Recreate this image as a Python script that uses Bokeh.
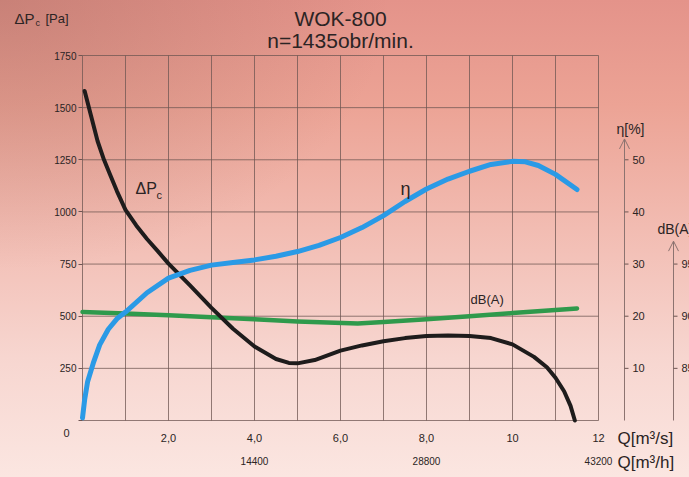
from bokeh.plotting import figure
from bokeh.models import (Range1d, LinearAxis, FixedTicker, Arrow, OpenHead,
                          InlineStyleSheet)
from bokeh.core.properties import value
from bokeh.embed import file_html
from bokeh.resources import INLINE

# ---------------- data ----------------
q_dp = [0.05, 0.2, 0.35, 0.5, 0.65, 0.8, 1.0, 1.25, 1.5, 1.75, 2.0, 2.5, 3.0, 3.5, 4.0,
        4.5, 4.8, 5.0, 5.4, 6.0, 6.5, 7.0, 7.5, 8.0, 8.5, 9.0, 9.5, 10.0, 10.5, 10.8,
        11.0, 11.2, 11.35, 11.45]
dp = [1580, 1460, 1340, 1250, 1175, 1100, 1010, 935, 870, 812, 752, 648, 540, 440, 355,
      295, 276, 274, 290, 335, 360, 380, 395, 405, 408, 405, 395, 365, 305, 255,
      205, 140, 70, 0]

q_eta = [0.0, 0.05, 0.12, 0.25, 0.4, 0.6, 0.8, 1.0, 1.5, 2.0, 2.5, 3.0, 3.5, 4.0, 4.5,
         5.0, 5.5, 6.0, 6.5, 7.0, 7.5, 8.0, 8.5, 9.0, 9.5, 10.0, 10.3, 10.6, 11.0, 11.5]
eta = [0.5, 4, 7.5, 11, 14.5, 17.5, 19.5, 20.8, 24.5, 27.3, 28.8, 29.8, 30.3, 30.8, 31.5,
       32.4, 33.6, 35.1, 37.0, 39.3, 42.0, 44.4, 46.3, 47.8, 49.1, 49.7, 49.6, 48.9, 47.2, 44.3]

q_db = [0.0, 1.0, 2.0, 3.0, 4.0, 5.0, 6.4, 7.0, 8.0, 9.0, 10.0, 11.0, 11.5]
db = [90.4, 90.25, 90.1, 89.9, 89.7, 89.5, 89.3, 89.45, 89.7, 90.0, 90.3, 90.6, 90.75]

x_ticks = [0, 2, 4, 6, 8, 10, 12]
x_tick_labels = ["", "2,0", "4,0", "6,0", "8,0", "10", "12"]
xh_ticks = [4, 8, 12]
xh_tick_labels = ["14400", "28800", "43200"]
y_ticks = [0, 250, 500, 750, 1000, 1250, 1500, 1750]
y_tick_labels = ["", "250", "500", "750", "1000", "1250", "1500", "1750"]
grid_x = list(range(0, 13))
eta_ticks = [10, 20, 30, 40, 50]
db_ticks = [85, 90, 95]

# ---------------- layout ----------------
W, H = 689, 477
OX, OY = 82, 420          # canvas pixel of data origin (Q=0, dP=0)
PX_X = 43.0               # px per 1 m3/s
PX_Y = 365.0 / 1750.0     # px per 1 Pa


def dx(px):   # canvas pixel -> data x
    return (px - OX) / PX_X


def dy(py):   # canvas pixel -> data Pa
    return (OY - py) / PX_Y


FONT = "Liberation Sans"
TXT = "#2b2424"
GRID = "#6e5552"
AXC = "#8c7370"

y_lo, y_hi = -(H - OY) / PX_Y, OY / PX_Y
p = figure(width=W, height=H, output_backend="svg", toolbar_location=None,
           x_range=Range1d(-OX / PX_X, (W - OX) / PX_X), y_range=Range1d(y_lo, y_hi),
           min_border=0, x_axis_type=None, y_axis_type=None)
p.extra_y_ranges = {
    "eta": Range1d(y_lo / 25.0, y_hi / 25.0),
    "db": Range1d(80 + y_lo / 50.0, 80 + y_hi / 50.0),
}
p.background_fill_color = None
p.border_fill_color = None
p.outline_line_color = None
p.stylesheets = [InlineStyleSheet(css=(
    ":host{background:"
    "radial-gradient(ellipse at 0% 0%, rgba(150,95,85,0.35), rgba(150,95,85,0) 40%),"
    "linear-gradient(180deg,#e4938a 0%,#eca395 22%,#f2bcb2 48%,#f7d6d0 75%,#fbe6e1 100%);}"
))]

# grid
p.segment(x0=grid_x, y0=[0] * len(grid_x), x1=grid_x, y1=[1750] * len(grid_x),
          line_color=GRID, line_width=1, line_alpha=0.75)
p.segment(x0=[0] * len(y_ticks), y0=y_ticks, x1=[12] * len(y_ticks), y1=y_ticks,
          line_color=GRID, line_width=1, line_alpha=0.75)

# axes (drawn at data origin)
yax = LinearAxis(ticker=FixedTicker(ticks=y_ticks), bounds=(0, 1750), fixed_location=0)
yax.major_label_overrides = {t: l for t, l in zip(y_ticks, y_tick_labels)}
yax.axis_line_color = None
yax.major_tick_out = 4
yax.major_tick_in = 0
yax.major_tick_line_color = GRID
yax.minor_tick_line_color = None
yax.major_label_standoff = 2
yax.major_label_text_font = FONT
yax.major_label_text_font_size = "10px"
yax.major_label_text_color = TXT
p.add_layout(yax, "left")

xax = LinearAxis(ticker=FixedTicker(ticks=x_ticks), bounds=(0, 12), fixed_location=0)
xax.major_label_overrides = {t: l for t, l in zip(x_ticks, x_tick_labels)}
xax.axis_line_color = None
xax.major_tick_line_color = None
xax.minor_tick_line_color = None
xax.major_label_standoff = 7
xax.major_label_text_font = FONT
xax.major_label_text_font_size = "11px"
xax.major_label_text_color = TXT
p.add_layout(xax, "below")

xax2 = LinearAxis(ticker=FixedTicker(ticks=xh_ticks), bounds=(0, 12), fixed_location=0)
xax2.major_label_overrides = {t: l for t, l in zip(xh_ticks, xh_tick_labels)}
xax2.axis_line_color = None
xax2.major_tick_line_color = None
xax2.minor_tick_line_color = None
xax2.major_label_standoff = 30
xax2.major_label_text_font = FONT
xax2.major_label_text_font_size = "10px"
xax2.major_label_text_color = TXT
p.add_layout(xax2, "below")

# curves
p.line(q_db, db, y_range_name="db", line_color="#2f9a4c", line_width=4.5,
       line_cap="round", line_join="round")
p.line(q_dp, dp, line_color="#1e1c1c", line_width=4, line_cap="round", line_join="round")
p.line(q_eta, eta, y_range_name="eta", line_color="#2a9ae6", line_width=5,
       line_cap="round", line_join="round")

# eta axis (right)
AX_E = dx(624)
p.segment(x0=[AX_E], y0=[0], x1=[AX_E], y1=[50], y_range_name="eta",
          line_color=AXC, line_width=1)
p.add_layout(Arrow(end=OpenHead(size=10, line_color=AXC, line_width=1),
                   x_start=AX_E, y_start=45, x_end=AX_E, y_end=54,
                   y_range_name="eta", line_color=AXC, line_width=1))
p.segment(x0=[AX_E] * len(eta_ticks), y0=eta_ticks, x1=[AX_E + 4 / PX_X] * len(eta_ticks),
          y1=eta_ticks, y_range_name="eta", line_color=GRID, line_width=1)
p.text(x=[dx(632)] * len(eta_ticks), y=eta_ticks, text=[str(t) for t in eta_ticks],
       y_range_name="eta", text_font=value(FONT), text_font_size="11px",
       text_color=TXT, text_baseline="middle", text_align="left")

# dB axis (right)
AX_D = dx(673)
p.segment(x0=[AX_D], y0=[80], x1=[AX_D], y1=[94], y_range_name="db",
          line_color=AXC, line_width=1)
p.add_layout(Arrow(end=OpenHead(size=10, line_color=AXC, line_width=1),
                   x_start=AX_D, y_start=93, x_end=AX_D, y_end=97.2,
                   y_range_name="db", line_color=AXC, line_width=1))
p.segment(x0=[AX_D] * len(db_ticks), y0=db_ticks, x1=[AX_D + 4 / PX_X] * len(db_ticks),
          y1=db_ticks, y_range_name="db", line_color=GRID, line_width=1)
p.text(x=[dx(681)] * len(db_ticks), y=db_ticks, text=[str(t) for t in db_ticks],
       y_range_name="db", text_font=value(FONT), text_font_size="11px",
       text_color=TXT, text_baseline="middle", text_align="left")


def lab(px, py, text, size, align="left", baseline="middle", color=TXT):
    p.text(x=[dx(px)], y=[dy(py)], text=[text], text_font=value(FONT),
           text_font_size=size, text_color=color, text_align=align,
           text_baseline=baseline)


# titles
lab(340, 18, "WOK-800", "21px", align="center")
lab(340, 40, "n=1435obr/min.", "21px", align="center")

# left axis label
lab(14, 18, "ΔP", "15px")
lab(35, 22, "c", "9px")
lab(45, 18, "[Pa]", "13px")

# curve labels
lab(135, 188, "ΔP", "16px")
lab(156, 194, "c", "11px")
lab(400, 188, "η", "18px")
lab(470, 299, "dB(A)", "13px")

# right axis labels
lab(616, 128, "η[%]", "14px")
lab(657, 228, "dB(A)", "14px")

# corner zero and axis quantity labels
lab(66, 432, "0", "11px", align="center")
lab(617, 438, "Q[m³/s]", "17px")
lab(617, 462, "Q[m³/h]", "17px")

open("out.html", "w").write(file_html(p, INLINE))
